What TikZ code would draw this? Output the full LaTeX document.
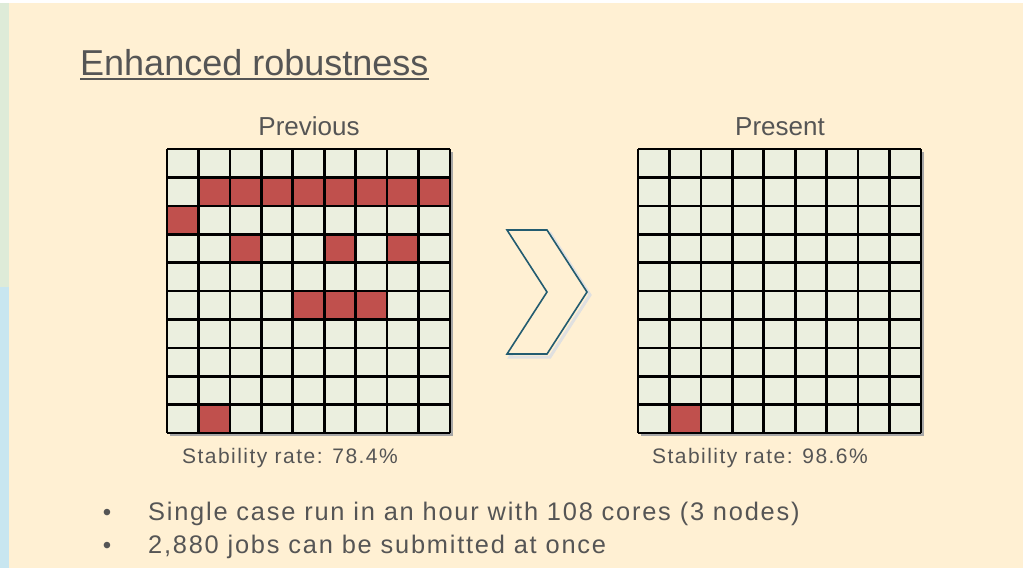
\documentclass[tikz,border=0pt]{standalone}
\usepackage{fontspec}
\setmainfont{Liberation Sans}
\newfontfamily\spacedfont[LetterSpace=7]{Liberation Sans}

\definecolor{slidebg}{RGB}{255,240,211}
\definecolor{cellfill}{RGB}{235,239,223}
\definecolor{failred}{RGB}{192,80,77}
\definecolor{textgray}{RGB}{85,85,85}
\definecolor{chevblue}{RGB}{35,92,112}
\definecolor{stripgreen}{RGB}{222,235,216}
\definecolor{stripblue}{RGB}{200,230,240}

\begin{document}
\begin{tikzpicture}[x=1pt,y=-1pt,
  txt/.style={text=textgray, inner sep=0pt},
  gridline/.style={line width=2.6pt, black}]
\useasboundingbox (0,0) rectangle (1025,568);

% background
\fill[white] (0,0) rectangle (1025,568);
\fill[slidebg] (0,3) rectangle (1023,568);
\fill[stripgreen] (0,3) rectangle (9,287);
\fill[stripblue] (0,287) rectangle (9,568);

% title
\node[txt, anchor=base west, font=\fontsize{36}{40}\selectfont] (title) at (80,75) {Enhanced robustness};
\draw[textgray, line width=1.6pt] ([yshift=-4pt]title.base west) -- ([yshift=-4pt]title.base east);

% headers
\node[txt, anchor=base, font=\fontsize{26}{30}\selectfont] (prev) at (309,135) {Previous};
\node[txt, anchor=base, font=\fontsize{26}{30}\selectfont] (pres) at (780,135) {Present};

% left grid
\fill[black!35] (170,152) rectangle (453,436);
\fill[cellfill] (167,149) rectangle (450,433);
\foreach \c/\r in {1/1,2/1,3/1,4/1,5/1,6/1,7/1,8/1,0/2,2/3,5/3,7/3,4/5,5/5,6/5,1/9}
  \fill[failred] (167+\c*31.44,149+\r*28.4) rectangle (167+\c*31.44+31.44,149+\r*28.4+28.4);
\foreach \i in {0,...,9}
  \draw[gridline] (167+\i*31.44,149) -- (167+\i*31.44,433);
\foreach \j in {0,...,10}
  \draw[gridline] (167,149+\j*28.4) -- (450,149+\j*28.4);

% right grid
\fill[black!35] (641,152) rectangle (924,436);
\fill[cellfill] (638,149) rectangle (921,433);
\fill[failred] (638+31.44,149+9*28.4) rectangle (638+2*31.44,433);
\foreach \i in {0,...,9}
  \draw[gridline] (638+\i*31.44,149) -- (638+\i*31.44,433);
\foreach \j in {0,...,10}
  \draw[gridline] (638,149+\j*28.4) -- (921,149+\j*28.4);

% chevron
\draw[black!12, line width=3pt] (510,233) -- (550,233) -- (590,295) -- (550,357) -- (510,357) -- (550,295) -- cycle;
\draw[chevblue, line width=1.6pt, fill=slidebg, line join=miter]
  (507,230) -- (547,230) -- (587,292) -- (547,354) -- (507,354) -- (547,292) -- cycle;

% rates
\node[txt, anchor=base, font=\spacedfont\fontsize{21}{24}\selectfont] (rateprev) at (290,463) {Stability rate: 78.4\%};
\node[txt, anchor=base, font=\spacedfont\fontsize{21}{24}\selectfont] (ratepres) at (760,463) {Stability rate: 98.6\%};

% bullets
\node[txt, anchor=base, font=\fontsize{24}{28}\selectfont] (b1) at (107,520) {•};
\node[txt, anchor=base, font=\fontsize{24}{28}\selectfont] (b2) at (107,553) {•};
\node[txt, anchor=base west, font=\spacedfont\fontsize{25.4}{28}\selectfont] (line1) at (148,520) {Single case run in an hour with 108 cores (3 nodes)};
\node[txt, anchor=base west, font=\spacedfont\fontsize{25.4}{28}\selectfont] (line2) at (148,553) {2,880 jobs can be submitted at once};

\end{tikzpicture}
\end{document}
